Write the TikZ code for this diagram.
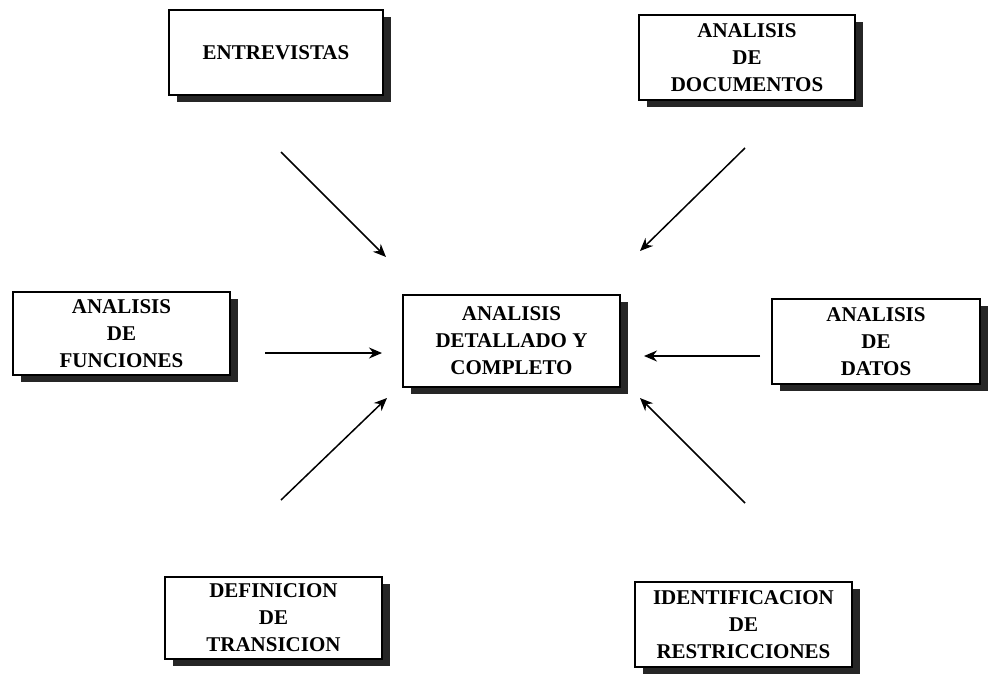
\documentclass[tikz,border=0pt]{standalone}
\usepackage{fontspec}
\setmainfont{Liberation Serif}
\usetikzlibrary{arrows.meta,shadows}

\tikzset{
  box/.style={draw, line width=1.1pt, fill=white, align=center, inner sep=0pt,
    font=\bfseries\fontsize{21}{27}\selectfont,
    drop shadow={shadow xshift=8pt, shadow yshift=-7pt, fill=black!85, opacity=1}},
  flow/.style={line width=1.5pt, -{Stealth[length=13pt,width=11pt]}}
}

\begin{document}
\begin{tikzpicture}[x=1pt,y=-1pt]
  \useasboundingbox (0,0) rectangle (988,673);

  % boxes around the central analysis step
  \node[box, minimum width=214pt, minimum height=85pt] (entr) at (276,52.5) {ENTREVISTAS};
  \node[box, minimum width=216pt, minimum height=85pt] (docs) at (747,57.5) {ANALISIS\\DE\\DOCUMENTOS};
  \node[box, minimum width=217pt, minimum height=83pt] (func) at (121.5,333.5) {ANALISIS\\DE\\FUNCIONES};
  \node[box, minimum width=217pt, minimum height=92pt] (main) at (511.5,341) {ANALISIS\\DETALLADO Y\\COMPLETO};
  \node[box, minimum width=208pt, minimum height=85pt] (datos) at (876,341.5) {ANALISIS\\DE\\DATOS};
  \node[box, minimum width=217pt, minimum height=82pt] (trans) at (273.5,618) {DEFINICION\\DE\\TRANSICION};
  \node[box, minimum width=217pt, minimum height=85pt] (restr) at (743.5,624.5) {IDENTIFICACION\\DE\\RESTRICCIONES};

  % free-standing arrow ends
  \coordinate (a1s) at (281,152);  \coordinate (a1e) at (386,257);
  \coordinate (a2s) at (745,148);  \coordinate (a2e) at (640,251);
  \coordinate (a3s) at (265,353);  \coordinate (a3e) at (382,353);
  \coordinate (a4s) at (760,356);  \coordinate (a4e) at (644,356);
  \coordinate (a5s) at (281,500);  \coordinate (a5e) at (387,398);
  \coordinate (a6s) at (745,503);  \coordinate (a6e) at (640,398);

  \draw[flow] (a1s) -- (a1e);
  \draw[flow] (a2s) -- (a2e);
  \draw[flow] (a3s) -- (a3e);
  \draw[flow] (a4s) -- (a4e);
  \draw[flow] (a5s) -- (a5e);
  \draw[flow] (a6s) -- (a6e);
\end{tikzpicture}
\end{document}
